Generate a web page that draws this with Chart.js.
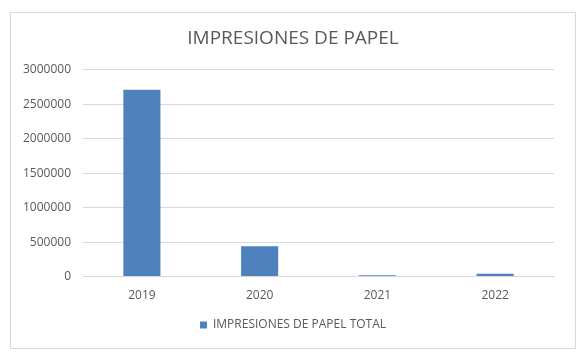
<!DOCTYPE html>
<html>
<head>
<meta charset="utf-8">
<script src="https://cdn.jsdelivr.net/npm/chart.js@4.4.1/dist/chart.umd.min.js"></script>
<style>
  html, body { margin: 0; padding: 0; background: #fff; }
  .frame {
    position: absolute; left: 10px; top: 12px;
    width: 564px; height: 335px;
    border: 1px solid #d9d9d9;
  }
</style>
</head>
<body>
<div class="frame"><canvas id="paperChart"></canvas></div>
<script>
const years = ["2019", "2020", "2021", "2022"];
const impresiones = [2710000, 440000, 20000, 40000];
const yTicks = [0, 500000, 1000000, 1500000, 2000000, 2500000, 3000000];

const grey = "#595959";
const font = "'Open Sans', 'Noto Sans', sans-serif";

new Chart(document.getElementById("paperChart"), {
  type: "bar",
  data: {
    labels: years,
    datasets: [{
      label: "IMPRESIONES DE PAPEL TOTAL",
      data: impresiones,
      backgroundColor: "#4f81bd",
      barPercentage: 0.63,
      categoryPercentage: 0.5
    }]
  },
  options: {
    responsive: true,
    maintainAspectRatio: false,
    animation: false,
    layout: { padding: { left: 0, right: 0, top: 12, bottom: 7 } },
    plugins: {
      title: {
        display: true,
        text: "IMPRESIONES DE PAPEL",
        color: grey,
        font: { family: font, size: 19, weight: "normal" },
        padding: { top: 2, bottom: 20 }
      },
      legend: {
        position: "bottom",
        labels: {
          color: grey,
          font: { family: font, size: 12 },
          boxWidth: 7,
          boxHeight: 7,
          padding: 12
        }
      },
      tooltip: { enabled: false }
    },
    scales: {
      x: {
        grid: { display: false },
        border: { color: "#d9d9d9" },
        ticks: { color: grey, font: { family: font, size: 12 }, padding: 4 }
      },
      y: {
        min: 0,
        max: 3000000,
        afterBuildTicks: axis => { axis.ticks = yTicks.map(v => ({ value: v })); },
        grid: { color: "#d9d9d9", drawTicks: false },
        border: { display: false },
        ticks: {
          color: grey,
          font: { family: font, size: 12 },
          padding: 12,
          callback: v => String(v)
        }
      },
      // empty right-hand spacer so the title and legend stay centred on the frame
      yRight: {
        position: "right",
        min: 0,
        max: 3000000,
        grid: { display: false },
        border: { display: false },
        ticks: { display: false },
        afterFit: axis => { axis.width = 21; }
      }
    }
  }
});
</script>
</body>
</html>
